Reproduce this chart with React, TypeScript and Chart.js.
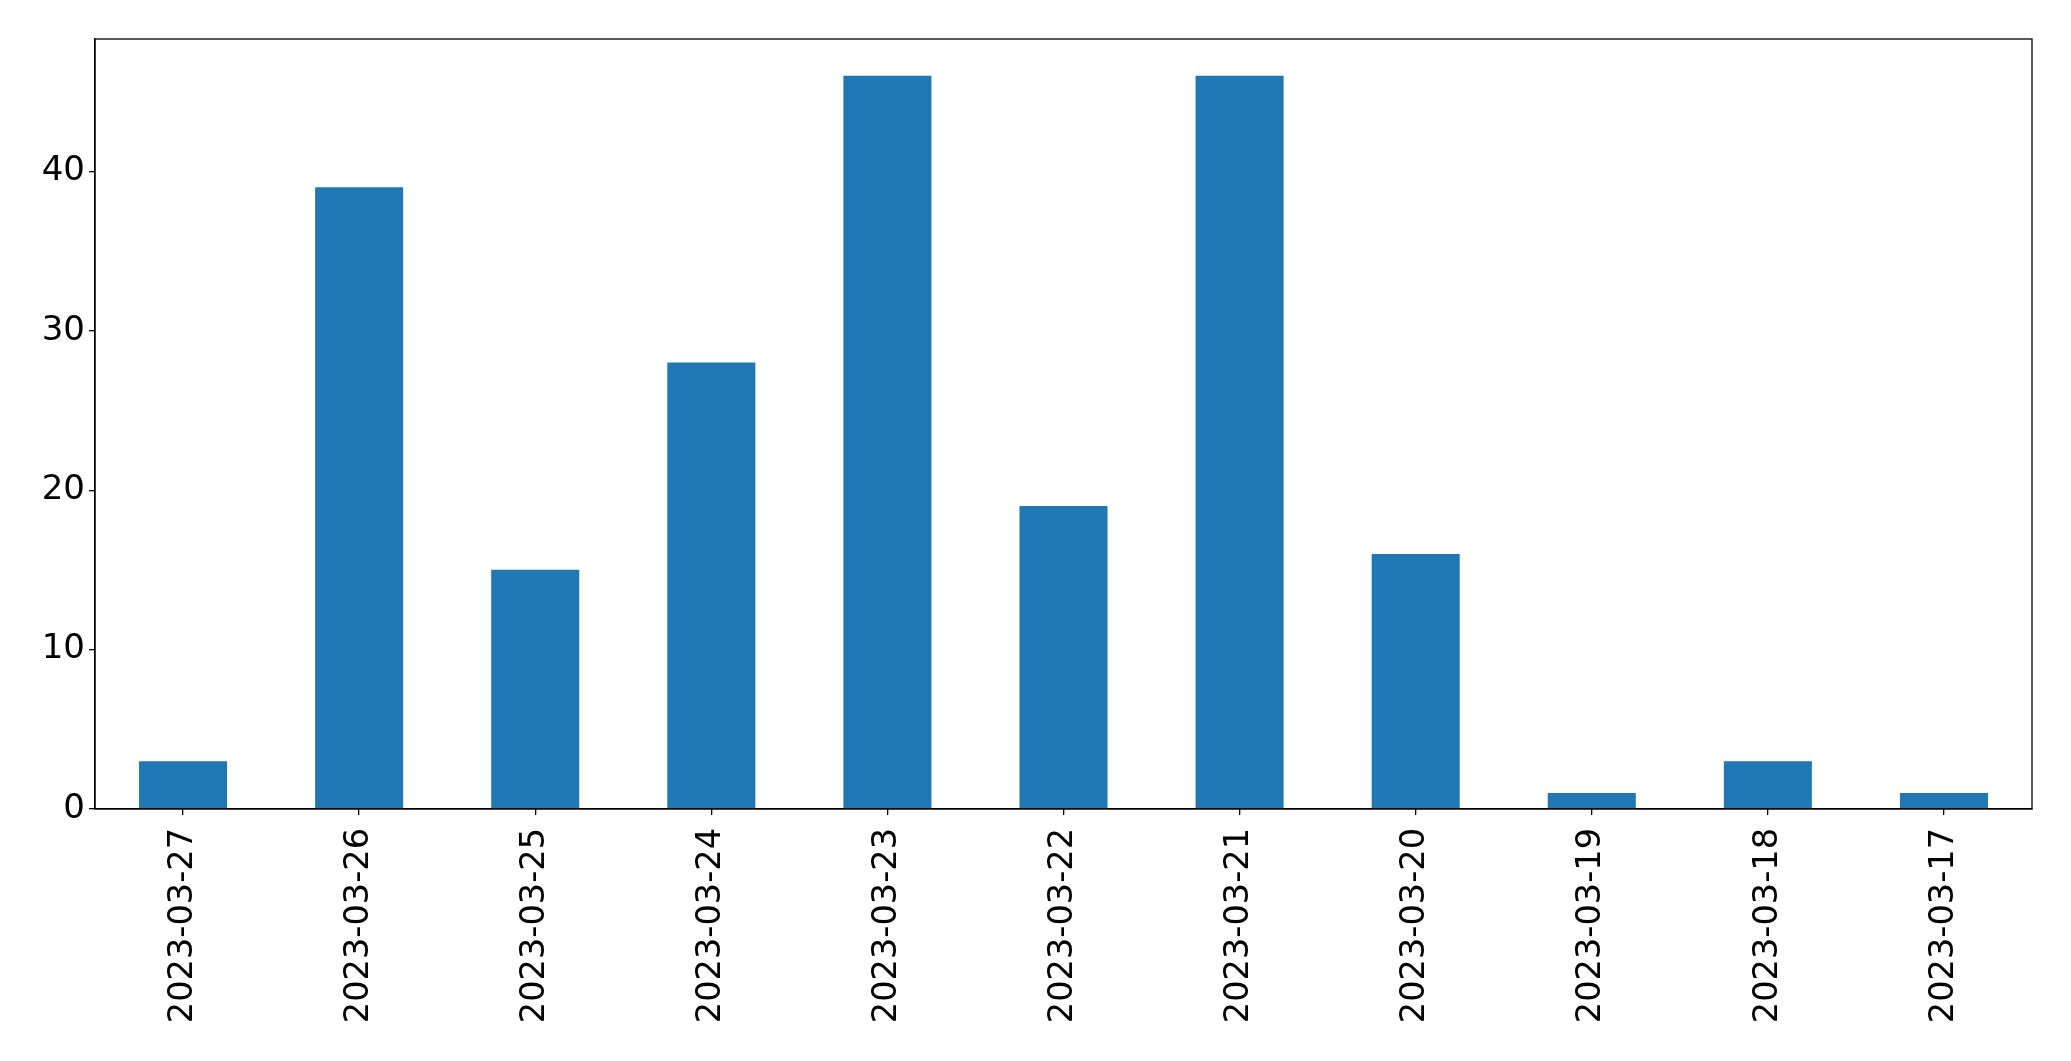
import React, { useEffect, useRef } from "react";
import { Chart, registerables } from "chart.js";

Chart.register(...registerables);

const categories = [
  "2023-03-27", "2023-03-26", "2023-03-25", "2023-03-24", "2023-03-23", "2023-03-22",
  "2023-03-21", "2023-03-20", "2023-03-19", "2023-03-18", "2023-03-17",
];
const counts = [3, 39, 15, 28, 46, 19, 46, 16, 1, 3, 1];
const yMax = 48.3;
const yStep = 10;

const frame = {
  id: "frame",
  afterDraw(chart: any) {
    const { ctx, chartArea } = chart;
    ctx.save();
    ctx.strokeStyle = "#000";
    ctx.lineWidth = 1.3;
    ctx.strokeRect(chartArea.left, chartArea.top, chartArea.right - chartArea.left, chartArea.bottom - chartArea.top);
    ctx.restore();
  },
};

export default function App() {
  const ref = useRef<HTMLCanvasElement>(null);
  useEffect(() => {
    document.body.style.margin = "0";
    const chart = new Chart(ref.current!, {
      type: "bar",
      data: {
        labels: categories,
        datasets: [
          {
            data: counts,
            backgroundColor: "#1f77b4",
            categoryPercentage: 1,
            barPercentage: 0.5,
          },
        ],
      },
      options: {
        animation: false,
        responsive: false,
        devicePixelRatio: 1,
        layout: { padding: { top: 39, right: 39, left: 0, bottom: 0 } },
        plugins: { legend: { display: false }, tooltip: { enabled: false } },
        scales: {
          x: {
            grid: { offset: false, drawOnChartArea: false, drawTicks: true, tickLength: 6, color: "#000", lineWidth: 1.3 },
            border: { display: true, color: "#000", width: 1.3 },
            ticks: {
              maxRotation: 90,
              minRotation: 90,
              autoSkip: false,
              color: "#000",
              padding: 13,
              font: { family: "DejaVu Sans", size: 33.6 },
            },
            afterFit: (s: any) => { s.height = 252; },
          },
          y: {
            min: 0,
            max: yMax,
            grid: { drawOnChartArea: false, drawTicks: true, tickLength: 6, color: "#000", lineWidth: 1.3 },
            border: { display: true, color: "#000", width: 1.3 },
            ticks: {
              stepSize: yStep,
              includeBounds: false,
              color: "#000",
              padding: 4,
              font: { family: "DejaVu Sans", size: 34 },
            },
            afterFit: (s: any) => { s.width = 95; },
          },
        },
      },
      plugins: [frame],
    });
    return () => chart.destroy();
  }, []);
  return (
    <div style={{ position: "absolute", left: 0, top: 0, width: 2071, height: 1061, background: "#fff" }}>
      <canvas ref={ref} width={2071} height={1061} />
    </div>
  );
}
